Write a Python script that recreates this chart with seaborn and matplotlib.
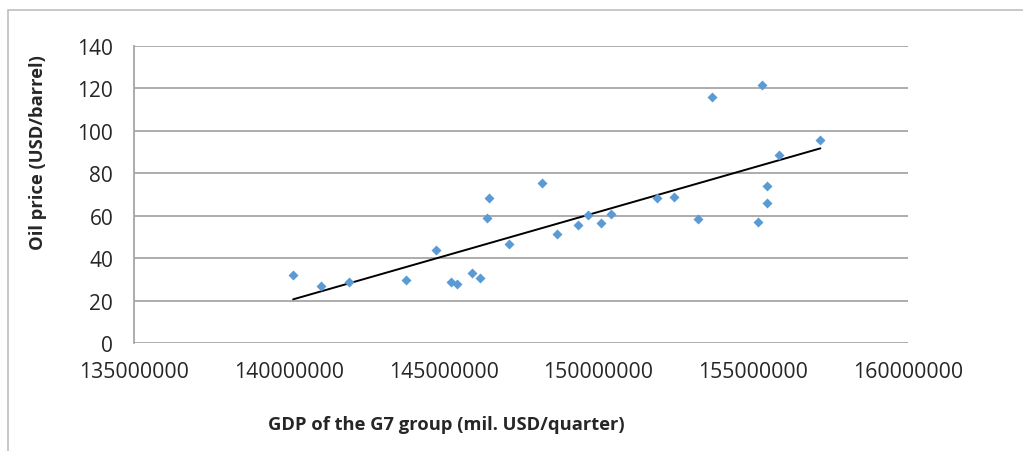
import numpy as np
import pandas as pd
import matplotlib
matplotlib.use("Agg")
import matplotlib.pyplot as plt
import matplotlib.ticker as mticker
import seaborn as sns

# GDP of the G7 group (mil. USD/quarter) vs oil price (USD/barrel)
gdp = [140140000, 141030000, 141940000, 143790000, 144750000, 145240000,
       145440000, 145930000, 146190000, 146400000, 146480000, 147100000,
       148190000, 148650000, 149350000, 149670000, 150090000, 150410000,
       151900000, 152450000, 153220000, 153680000, 155160000, 155300000,
       155440000, 155430000, 155840000, 157170000]
oil = [32.1, 27.0, 28.6, 29.7, 43.7, 28.9,
       27.8, 33.2, 30.5, 59.0, 68.2, 46.8,
       75.3, 51.6, 55.7, 60.4, 56.6, 61.0,
       68.4, 68.9, 58.6, 116.0, 56.9, 121.7,
       74.2, 66.2, 88.4, 95.9]

dados = pd.DataFrame({"gdp": gdp, "oil": oil})

sns.set_style("white")
plt.rcParams["font.family"] = ["Open Sans", "DejaVu Sans"]

fig = plt.figure(figsize=(10.23, 4.52), dpi=100)
ax = fig.add_axes([134 / 1023, 1 - 344 / 452, 774 / 1023, 297 / 452])

# moldura do gráfico (parcialmente cortada)
fig.patches.append(plt.Rectangle((8 / 1023, -0.2), 1.2, 1 - 11 / 452 + 0.2,
                                 transform=fig.transFigure, fill=False,
                                 edgecolor="#BFBFBF", linewidth=1.2, zorder=0))

sns.regplot(data=dados, x="gdp", y="oil", scatter=False, ci=None, truncate=True,
            color="black", line_kws={"linewidth": 1.4}, ax=ax)
sns.scatterplot(data=dados, x="gdp", y="oil", marker="D", s=26, color="#5B9BD5",
                edgecolor="#5B9BD5", linewidth=0, ax=ax, zorder=3)

ax.set_xlim(135000000, 160000000)
ax.set_ylim(0, 140)
ax.set_xticks(np.arange(135000000, 160000001, 5000000))
ax.set_yticks(np.arange(0, 141, 20))
ax.xaxis.set_major_formatter(mticker.FuncFormatter(lambda v, p: f"{int(round(v))}"))

ax.yaxis.grid(True, color="#A6A6A6", linewidth=1.3)
ax.xaxis.grid(False)
for s in ["top", "right", "bottom"]:
    ax.spines[s].set_visible(False)
ax.spines["left"].set_color("#A6A6A6")
ax.spines["left"].set_linewidth(1.3)
ax.tick_params(axis="y", length=0, pad=15, labelsize=15)
ax.tick_params(axis="x", length=0, pad=13, labelsize=15.3)

ax.set_xlabel("GDP of the G7 group (mil. USD/quarter)", fontsize=13.2, fontweight="bold")
ax.set_ylabel("Oil price (USD/barrel)", fontsize=13.2, fontweight="bold")
ax.xaxis.set_label_coords((446 - 134) / 774, (344 - 425) / 297)
ax.xaxis.label.set_va("center")
ax.yaxis.set_label_coords((38 - 134) / 774, (344 - 153) / 297)
ax.yaxis.label.set_va("center")

plt.savefig("out.png", dpi=100)
